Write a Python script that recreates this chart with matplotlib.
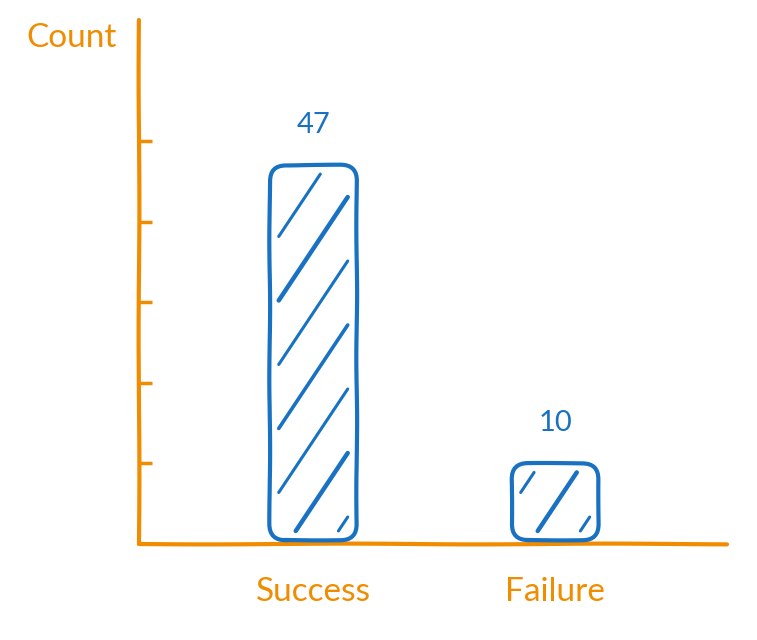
import numpy as np
import matplotlib
matplotlib.use("Agg")
import matplotlib.pyplot as plt
from matplotlib.patches import FancyBboxPatch

categories = ["Success", "Failure"]
counts = [47, 10]
y_ticks = [10, 20, 30, 40, 50]
y_label = "Count"

ORANGE = "#f08c00"
BLUE = "#1971c2"
FONT = ["Lato", "DejaVu Sans"]

W, H, DPI = 757, 640, 100
fig = plt.figure(figsize=(W / DPI, H / DPI), dpi=DPI)
ax = fig.add_axes([139 / W, 96 / H, (727 - 139) / W, (620 - 96) / H])

x = np.arange(len(categories))
ax.set_xlim(-0.72, 1.71)
ax.set_ylim(0, 65)

# axes styling
for s in ["top", "right"]:
    ax.spines[s].set_visible(False)
for s in ["left", "bottom"]:
    ax.spines[s].set_color(ORANGE)
    ax.spines[s].set_linewidth(3.0)
    ax.spines[s].set_capstyle("round")
    ax.spines[s].set_sketch_params(scale=0.4, length=300, randomness=2)

ax.set_yticks(y_ticks)
ax.set_yticklabels([])
ax.tick_params(axis="y", direction="in", length=9, width=2.5, color=ORANGE)
ax.set_xticks(x)
ax.set_xticklabels(categories, fontsize=24, color=ORANGE, family=FONT)
ax.tick_params(axis="x", length=0, pad=24)

fig.text(72 / W, 1 - 38 / H, y_label, ha="center", va="center",
         fontsize=24, color=ORANGE, family=FONT)

fig.canvas.draw()
# pixel scales
px_x = abs(ax.transData.transform((1, 0))[0] - ax.transData.transform((0, 0))[0])
px_y = abs(ax.transData.transform((0, 1))[1] - ax.transData.transform((0, 0))[1])
bar_w = 87 / px_x
radius_px = 16
aspect = (1 / px_y) / (1 / px_x)

for xi, v in zip(x, counts):
    x0 = xi - bar_w / 2
    y0 = 4 / px_y
    h = v - y0
    patch = FancyBboxPatch((x0, y0), bar_w, h,
                           boxstyle=f"round,pad=0,rounding_size={radius_px / px_x}",
                           mutation_aspect=aspect,
                           facecolor="none", edgecolor=BLUE, linewidth=3.0,
                           zorder=3)
    patch.set_sketch_params(scale=0.4, length=150, randomness=2)
    ax.add_patch(patch)

    # hachure lines (pixel space), clipped to the bar
    clip = FancyBboxPatch((x0, y0), bar_w, h,
                          boxstyle=f"round,pad=0,rounding_size={radius_px / px_x}",
                          mutation_aspect=aspect, facecolor="none",
                          edgecolor="none", transform=ax.transData)
    ax.add_patch(clip)
    (bx0, by0) = ax.transData.transform((x0, y0))
    (bx1, by1) = ax.transData.transform((x0 + bar_w, v))
    inset = 9
    bx0i, bx1i, by0i, by1i = bx0 + inset, bx1 - inset, by0 + inset, by1 - inset
    slope = 1.5  # dy/dx in pixels
    step = 64
    c = by0i - slope * bx1i + 14
    lws = [2.2, 3.2, 2.2, 2.6]
    k = 0
    while c < by1i - slope * bx0i:
        xa = max(bx0i, (by0i - c) / slope)
        xb = min(bx1i, (by1i - c) / slope)
        if xb > xa + 8:
            p0 = ax.transData.inverted().transform((xa, slope * xa + c))
            p1 = ax.transData.inverted().transform((xb, slope * xb + c))
            ln, = ax.plot([p0[0], p1[0]], [p0[1], p1[1]], color=BLUE,
                          lw=lws[k % len(lws)], solid_capstyle="round", zorder=2)
            ln.set_clip_path(clip)
            k += 1
        c += step

    ax.annotate(str(v), (xi, v), xytext=(0, 29), textcoords="offset points",
                ha="center", va="center", fontsize=21, color=BLUE, family=FONT)

fig.savefig("out.png", dpi=DPI)
